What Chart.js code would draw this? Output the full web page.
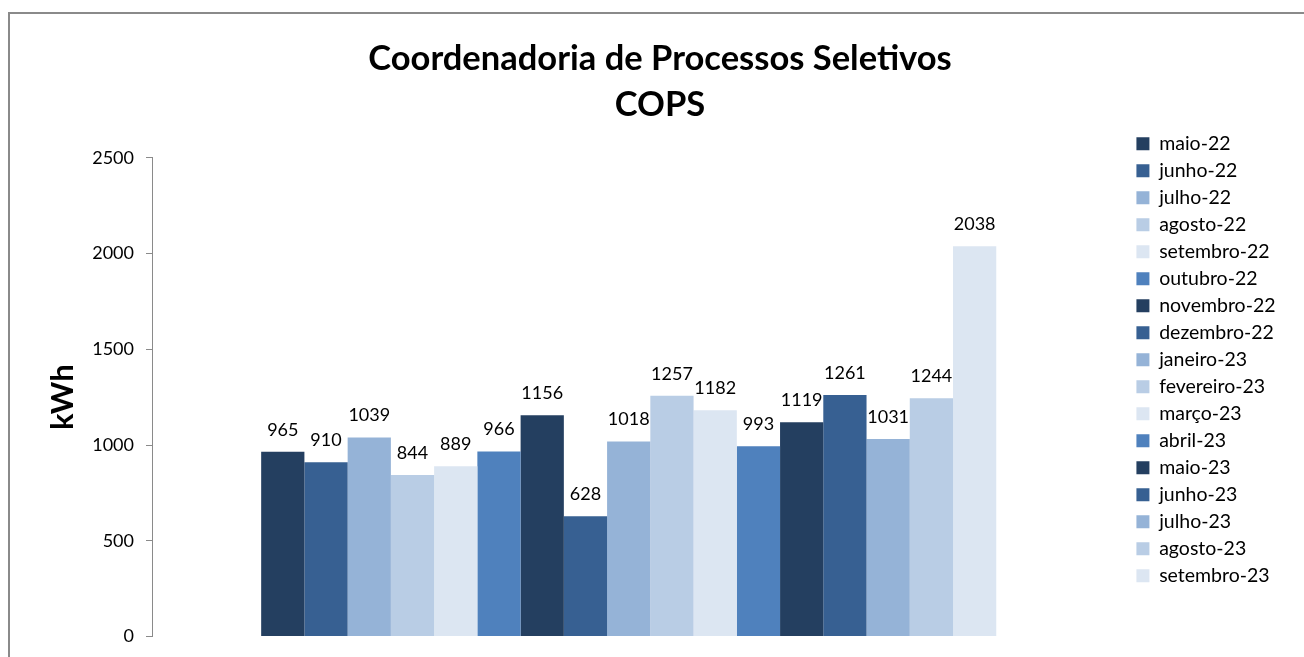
<!DOCTYPE html>
<html>
<head>
<meta charset="utf-8">
<script src="https://cdn.jsdelivr.net/npm/chart.js@4.4.1/dist/chart.umd.min.js"></script>
<style>
  html, body { margin: 0; padding: 0; background: #fff; overflow: hidden; }
  #wrap { position: relative; width: 1304px; height: 657px; }
  #frame { position: absolute; left: 8px; top: 12px; width: 1400px; height: 800px;
           border: 2px solid #8a8a8a; pointer-events: none; }
</style>
</head>
<body>
<div id="wrap">
  <canvas id="chart" width="1304" height="657"></canvas>
  <div id="frame"></div>
</div>
<script>
// months (one bar each) and consumption in kWh
var months = ["maio-22", "junho-22", "julho-22", "agosto-22", "setembro-22", "outubro-22",
  "novembro-22", "dezembro-22", "janeiro-23", "fevereiro-23", "março-23", "abril-23",
  "maio-23", "junho-23", "julho-23", "agosto-23", "setembro-23"]
var kwh = [965, 910, 1039, 844, 889, 966, 1156, 628, 1018, 1257, 1182, 993, 1119, 1261, 1031, 1244, 2038]
var palette = ["#243f60", "#376092", "#95b3d7", "#b9cde5", "#dce6f2", "#4f81bd"]

var FONT = "Lato, 'Open Sans', sans-serif"

var datasets = months.map(function(m, i) {
  return {
    label: m,
    data: [kwh[i]],
    backgroundColor: palette[i % palette.length],
    borderWidth: 0,
    yAxisID: 'y'
  }
})

// value labels above each bar
var valueLabels = {
  id: 'valueLabels',
  afterDatasetsDraw: function(chart) {
    var ctx = chart.ctx
    ctx.save()
    ctx.font = "18px " + FONT
    ctx.fillStyle = "#000"
    ctx.textAlign = "center"
    ctx.textBaseline = "bottom"
    chart.data.datasets.forEach(function(ds, i) {
      var meta = chart.getDatasetMeta(i)
      meta.data.forEach(function(bar, j) {
        ctx.fillText(ds.data[j], bar.x, bar.y - 13)
      })
    })
    ctx.restore()
  }
}

var ctx = document.getElementById("chart")
var chart = new Chart(ctx, {
  type: 'bar',
  data: {
    labels: [""],
    datasets: datasets
  },
  options: {
    responsive: false,
    animation: false,
    layout: { padding: { left: 34.5, right: 18.5, top: 0, bottom: 20.5 } },
    categoryPercentage: 0.771,
    barPercentage: 1.0,
    scales: {
      x: { display: false },
      y: {
        min: 0,
        max: 2500,
        ticks: {
          stepSize: 500,
          color: "#000",
          font: { family: FONT, size: 18 },
          padding: 12,
          callback: function(v) { return String(v) }
        },
        grid: { drawOnChartArea: false, drawTicks: true, tickLength: 6, color: "#8a8a8a" },
        border: { display: true, color: "#8a8a8a", width: 1 },
        title: {
          display: true,
          text: "kWh",
          color: "#000",
          font: { family: FONT, size: 31, weight: 'bold' },
          padding: { top: 10, bottom: 0 }
        },
        afterFit: function(scale) {
          scale.width = 117.5
          scale.paddingTop = 0
          scale.paddingBottom = 0
        }
      },
      // empty spacer so the legend sits a bit away from the bars
      spacer: {
        type: 'linear',
        position: 'right',
        display: true,
        ticks: { display: false },
        grid: { display: false },
        border: { display: false },
        afterFit: function(scale) { scale.width = 23.5 }
      }
    },
    plugins: {
      title: {
        display: true,
        text: ["Coordenadoria de Processos Seletivos", "COPS"],
        color: "#000",
        font: { family: FONT, size: 34.5, weight: 'bold', lineHeight: 1.33 },
        padding: { top: 36, bottom: 30 }
      },
      legend: {
        position: 'right',
        align: 'center',
        title: { display: true, text: " ", font: { size: 10, lineHeight: 1 }, padding: { top: 36.5, bottom: 36.5 } },
        labels: {
          boxWidth: 13,
          boxHeight: 13,
          padding: 7.5,
          color: "#000",
          font: { family: FONT, size: 19.5 }
        }
      },
      tooltip: { enabled: false }
    }
  },
  plugins: [valueLabels]
})
</script>
</body>
</html>
